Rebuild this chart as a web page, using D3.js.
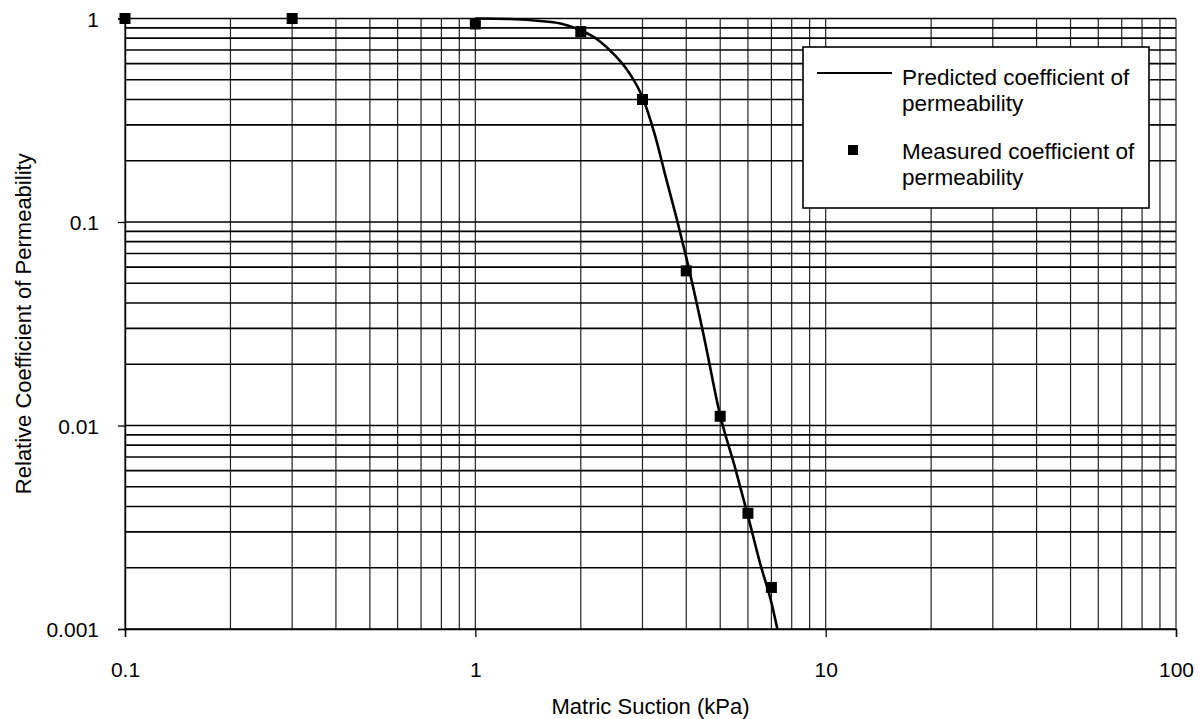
<!DOCTYPE html>
<html>
<head>
<meta charset="utf-8">
<script src="https://cdn.jsdelivr.net/npm/d3@7"></script>
<style>
  html, body { margin: 0; padding: 0; background: #fff; }
  svg { display: block; font-family: "Liberation Sans", Arial, Helvetica, sans-serif; }
</style>
</head>
<body>
<svg id="chart" width="1204" height="719"></svg>
<script>
// Measured relative permeability (kPa suction vs k/ks)
const measuredSuction = [0.1, 0.3, 1, 2, 3, 4, 5, 6, 7];
const measuredK = [1, 1, 0.94, 0.863, 0.40, 0.0575, 0.0111, 0.0037, 0.0016];

// Predicted permeability function, sampled along the curve
const predictedSuction = [1, 1.25, 1.5, 1.75, 2, 2.25, 2.5, 2.75, 3, 3.25, 3.5, 3.75, 4, 4.5, 5, 5.5, 6, 6.5, 7, 7.28];
const predictedK = [1, 0.995, 0.975, 0.945, 0.875, 0.78, 0.66, 0.54, 0.41, 0.27, 0.165, 0.105, 0.067, 0.027, 0.0112, 0.0063, 0.0036, 0.0021, 0.00135, 0.001];

const xTickValues = [0.1, 1, 10, 100];
const xTickLabels = ["0.1", "1", "10", "100"];
const yTickValues = [0.001, 0.01, 0.1, 1];
const yTickLabels = ["0.001", "0.01", "0.1", "1"];

const legendLabels = [
  ["Predicted coefficient of", "permeability"],
  ["Measured coefficient of", "permeability"]
];
const xTitle = "Matric Suction (kPa)";
const yTitle = "Relative Coefficient of Permeability";

const svg = d3.select("#chart");
const plot = { left: 125, right: 1176, top: 18.5, bottom: 629 };

const x = d3.scaleLog().domain([0.1, 100]).range([plot.left, plot.right]);
const y = d3.scaleLog().domain([0.001, 1]).range([plot.bottom, plot.top]);

// every 1..9 step in each decade for the grid
function decadeSteps(lo, hi) {
  const out = [];
  for (let e = Math.log10(lo); e < Math.log10(hi); e++) {
    for (let m = 1; m < 10; m++) out.push(m * Math.pow(10, e));
  }
  out.push(hi);
  return out;
}
const xGrid = decadeSteps(0.1, 100);
const yGrid = decadeSteps(0.001, 1);

const grid = svg.append("g");
grid.selectAll("line.v").data(xGrid).enter().append("line")
  .attr("class", "v")
  .attr("x1", d => x(d)).attr("x2", d => x(d))
  .attr("y1", plot.top).attr("y2", plot.bottom)
  .attr("stroke", "#222").attr("stroke-width", 1.2);
grid.selectAll("line.h").data(yGrid).enter().append("line")
  .attr("class", "h")
  .attr("x1", plot.left).attr("x2", plot.right)
  .attr("y1", d => y(d)).attr("y2", d => y(d))
  .attr("stroke", "#000").attr("stroke-width", 1.7);

// axes with outward major ticks
const xAxis = svg.append("g")
  .attr("transform", `translate(0,${plot.bottom})`)
  .call(d3.axisBottom(x).tickValues(xTickValues).tickSize(8).tickPadding(0)
    .tickFormat((d, i) => xTickLabels[i]));
xAxis.select(".domain").attr("stroke", "#000").attr("stroke-width", 1.4);
xAxis.selectAll(".tick line").attr("stroke", "#000").attr("stroke-width", 1.3);
xAxis.selectAll(".tick text").text(null);
xAxis.selectAll(".tick").append("text")
  .attr("y", 48).attr("text-anchor", "middle")
  .attr("font-size", 21).attr("fill", "#000")
  .text((d, i) => xTickLabels[i]);

const yAxis = svg.append("g")
  .attr("transform", `translate(${plot.left},0)`)
  .call(d3.axisLeft(y).tickValues(yTickValues).tickSize(7).tickPadding(0)
    .tickFormat((d, i) => yTickLabels[i]));
yAxis.select(".domain").attr("stroke", "#000").attr("stroke-width", 1.4);
yAxis.selectAll(".tick line").attr("stroke", "#000").attr("stroke-width", 1.3);
yAxis.selectAll(".tick text").text(null);
yAxis.selectAll(".tick").append("text")
  .attr("x", -26).attr("dy", "0.36em").attr("text-anchor", "end")
  .attr("font-size", 21).attr("fill", "#000")
  .text((d, i) => yTickLabels[i]);

// predicted curve
const line = d3.line()
  .x((d, i) => x(predictedSuction[i]))
  .y(d => y(d))
  .curve(d3.curveMonotoneX);
svg.append("path")
  .datum(predictedK)
  .attr("d", line)
  .attr("fill", "none").attr("stroke", "#000").attr("stroke-width", 2.6);

// measured points
const sq = 11;
svg.append("g").selectAll("rect").data(measuredK).enter().append("rect")
  .attr("x", (d, i) => x(measuredSuction[i]) - sq / 2)
  .attr("y", d => y(d) - sq / 2)
  .attr("width", sq).attr("height", sq)
  .attr("fill", "#000");

// axis titles
svg.append("text")
  .attr("x", (plot.left + plot.right) / 2).attr("y", 714)
  .attr("text-anchor", "middle").attr("font-size", 22).attr("fill", "#000")
  .text(xTitle);
svg.append("text")
  .attr("transform", `translate(31,${(plot.top + plot.bottom) / 2}) rotate(-90)`)
  .attr("text-anchor", "middle").attr("font-size", 22).attr("fill", "#000")
  .text(yTitle);

// legend
const lg = svg.append("g").attr("transform", "translate(803,47)");
lg.append("rect").attr("width", 346).attr("height", 161)
  .attr("fill", "#fff").attr("stroke", "#000").attr("stroke-width", 1.6);
lg.append("line").attr("x1", 14).attr("x2", 89).attr("y1", 26).attr("y2", 26)
  .attr("stroke", "#000").attr("stroke-width", 2);
lg.append("rect").attr("x", 45).attr("y", 98).attr("width", 10).attr("height", 10)
  .attr("fill", "#000");
legendLabels.forEach((lines, k) => {
  const t = lg.append("text").attr("font-size", 22.5).attr("fill", "#000");
  lines.forEach((s, j) => {
    t.append("tspan").attr("x", 99).attr("y", (k === 0 ? 38 : 112) + j * 25.5).text(s);
  });
});
</script>
</body>
</html>
